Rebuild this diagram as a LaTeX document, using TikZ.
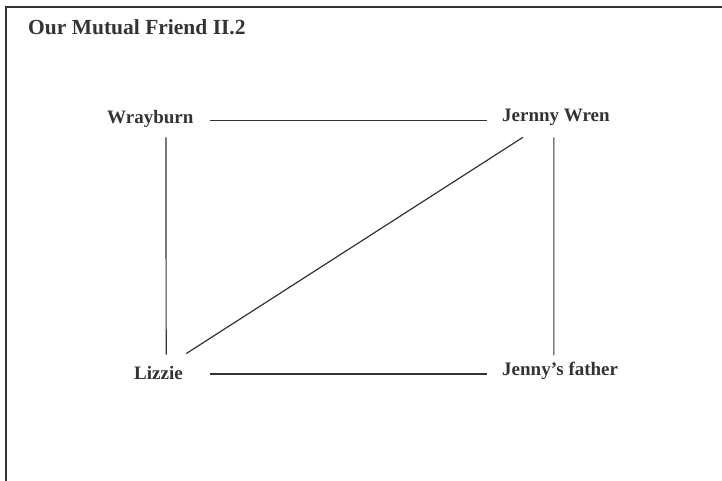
\documentclass[tikz,border=0pt]{standalone}
\usepackage{fontspec}
\setmainfont{Liberation Serif}
\usepackage{xcolor}
\usetikzlibrary{calc}
\definecolor{inkgray}{HTML}{333333}

\begin{document}
\begin{tikzpicture}[x=1pt, y=-1pt,
    person/.style={anchor=base west, inner sep=0pt, text=inkgray,
                   font=\fontsize{19}{22}\selectfont\bfseries},
    link/.style={draw=inkgray, line width=1.2pt}]
  \useasboundingbox (0,0) rectangle (722,481);

  % Frame
  \draw[inkgray, line width=2.5pt] (6,481) -- (6,7) -- (722,7);

  % Title
  \node[person, font=\fontsize{21.5}{24}\selectfont\bfseries] (title) at (28,35)
    {Our Mutual Friend II.2};

  % Characters
  \node[person] (wray) at (107,124) {Wrayburn};
  \node[person] (wren) at (502,122) {Jernny Wren};
  \node[person] (lizzie) at (134,379) {Lizzie};
  \node[person] (father) at (502,375) {Jenny’s father};

  % Ties
  \coordinate (wrayE) at ($(wray.east)+(0,1.3)$);
  \coordinate (lizzieE) at ($(lizzie.east)+(0,1.5)$);
  \draw[link, shorten <=16pt, shorten >=15pt] (wrayE) -- (wrayE -| wren.west);
  \draw[link, shorten <=27pt, shorten >=15pt] (lizzieE) -- (lizzieE -| father.west);
  \draw[link] ($(wray.south)+(15.7,9)$) -- ($(lizzie.north)+(7.7,-11)$);
  \draw[link] ($(wren.south)+(-2.1,11)$) -- ($(father.north)+(-6.3,-6)$);
  \draw[link] ($(wren.south)+(-33,11)$) -- ($(lizzie.north)+(27.7,-12)$);
\end{tikzpicture}
\end{document}
